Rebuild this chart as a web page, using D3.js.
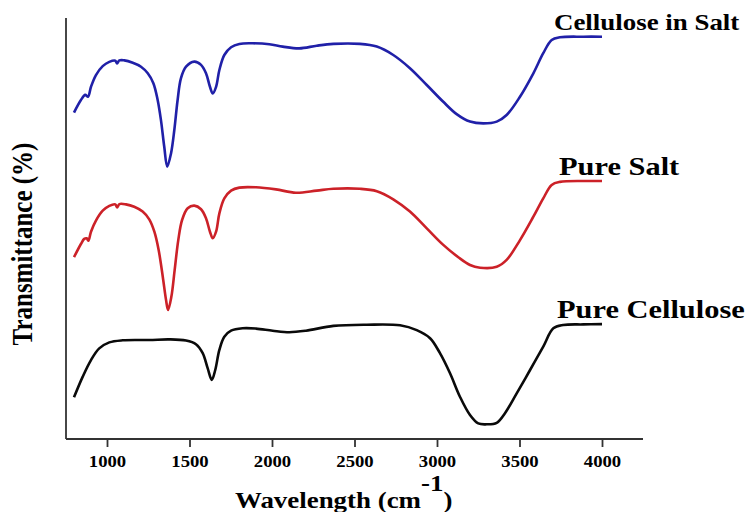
<!DOCTYPE html>
<html lang="en">
<head>
<meta charset="utf-8">
<title>FTIR spectra</title>
<script src="https://cdn.jsdelivr.net/npm/d3@7"></script>
<style>
    body { margin: 0; background: #fff; }
    svg text {
        font-family: "Liberation Serif", "Times New Roman", serif;
        font-weight: bold;
        fill: #000;
    }
    .axis path, .axis line {
        stroke: #333;
        stroke-width: 1.8;
    }
</style>
</head>
<body>
<svg id="chart" width="748" height="512"></svg>
<script>
// x ticks (wavenumber, cm-1)
var xTicks = [1000, 1500, 2000, 2500, 3000, 3500, 4000];
var seriesNames = ["Cellulose in Salt", "Pure Salt", "Pure Cellulose"];

// Cellulose in Salt (blue)
var wnBlue = [800, 842, 868, 885, 903, 933, 974, 1014, 1050, 1061, 1075, 1105, 1156, 1206, 1247, 1281, 1307, 1327, 1347, 1365,
    1388, 1408, 1428, 1448, 1479, 1529, 1570, 1600, 1624, 1641, 1661, 1681, 1711, 1752, 1802, 1883, 1984, 2065, 2165, 2271,
    2372, 2533, 2635, 2735, 2836, 2938, 3038, 3119, 3200, 3281, 3362, 3422, 3503, 3584, 3644, 3695, 3745, 3887, 4000];
var tBlue = [108.8, 113.0, 114.7, 114.1, 117.4, 121.3, 124.3, 125.7, 126.1, 125.2, 126.2, 126.2, 125.4, 124.1, 121.9, 118.6, 113.0, 106.3, 97.4, 90.8,
    95.2, 103.0, 113.0, 120.2, 124.1, 125.8, 124.7, 121.9, 117.4, 115.2, 117.4, 123.0, 128.0, 130.6, 131.7, 131.9, 131.6, 130.8, 130.2, 131.1,
    131.7, 131.7, 130.8, 128.0, 123.6, 118.0, 112.4, 108.3, 105.8, 105.2, 105.8, 108.0, 114.1, 121.9, 128.6, 133.0, 133.9, 134.1, 134.1];

// Pure Salt (red)
var wnRed = [800, 842, 862, 877, 887, 903, 933, 974, 1014, 1050, 1061, 1075, 1115, 1165, 1216, 1256, 1287, 1313, 1338, 1358,
    1370, 1390, 1410, 1432, 1455, 1489, 1529, 1570, 1600, 1624, 1641, 1661, 1681, 1711, 1752, 1802, 1903, 2024, 2145, 2271,
    2372, 2533, 2635, 2735, 2836, 2938, 3038, 3129, 3200, 3261, 3362, 3422, 3503, 3584, 3644, 3695, 3745, 3887, 4000];
var tRed = [60.6, 65.0, 66.7, 66.9, 66.1, 69.1, 72.8, 76.1, 77.7, 78.2, 77.2, 78.3, 78.2, 77.4, 75.8, 73.2, 69.1, 63.0, 54.1, 46.3,
    43.0, 47.4, 56.3, 66.3, 73.0, 76.9, 77.8, 76.6, 73.6, 69.1, 66.9, 69.1, 75.2, 80.2, 82.8, 83.8, 83.9, 83.2, 82.1, 82.8,
    83.4, 83.4, 82.6, 79.9, 75.8, 70.2, 64.7, 60.6, 58.0, 57.1, 57.4, 59.7, 66.3, 74.1, 80.2, 84.7, 85.7, 86.0, 86.0];

// Pure Cellulose (black)
var wnBlack = [800, 853, 903, 953, 1014, 1095, 1256, 1378, 1479, 1539, 1580, 1610, 1635, 1656, 1681, 1711, 1752, 1822, 1903, 2004,
    2105, 2206, 2372, 2574, 2776, 2877, 2958, 3018, 3079, 3139, 3200, 3250, 3301, 3362, 3412, 3483, 3564, 3644, 3705, 3765, 3887, 4000];
var tBlack = [13.9, 20.8, 26.3, 30.2, 32.2, 32.9, 33.0, 33.2, 32.8, 31.6, 28.6, 23.6, 19.7, 23.0, 29.7, 34.1, 36.1, 36.9, 36.8, 36.1,
    35.6, 36.1, 37.7, 38.1, 37.9, 36.3, 33.6, 28.6, 21.9, 14.1, 8.0, 5.2, 4.9, 5.4, 8.6, 15.2, 23.0, 30.8, 36.9, 38.0, 38.2, 38.3];

var svg = d3.select("#chart");
var plotLeft = 66, plotBottom = 439, plotTop = 19, plotRight = 643;

var x = d3.scaleLinear().domain([800, 4000]).range([74, 602]);
var y = d3.scaleLinear().domain([0, 140]).range([plotBottom, plotTop]);
var stretch = 1.17;

// axes
svg.append("line")
    .attr("x1", plotLeft).attr("x2", plotLeft).attr("y1", 18).attr("y2", plotBottom)
    .attr("stroke", "#333").attr("stroke-width", 1.8);
svg.append("line")
    .attr("x1", plotLeft).attr("x2", plotRight).attr("y1", plotBottom).attr("y2", plotBottom)
    .attr("stroke", "#333").attr("stroke-width", 1.8);

var xAxis = svg.append("g").attr("class", "axis")
    .attr("transform", "translate(0," + plotBottom + ")")
    .call(d3.axisBottom(x).tickValues(xTicks).tickSize(8).tickSizeOuter(0).tickPadding(6).tickFormat(d3.format("d")));
xAxis.select(".domain").remove();
xAxis.selectAll("text")
    .attr("y", 28).attr("dy", null)
    .attr("font-size", 17)
    .attr("transform", "scale(1.1,1)");

// curves
var line = d3.line()
    .x(function(d) { return x(d[0]); })
    .y(function(d) { return y(d[1]); })
    .curve(d3.curveCatmullRom.alpha(0.5));

var series = [
    { wn: wnBlue, t: tBlue, color: "#2020a8" },
    { wn: wnRed, t: tRed, color: "#cc2128" },
    { wn: wnBlack, t: tBlack, color: "#0a0a0a" }
];
series.forEach(function(s) {
    svg.append("path")
        .datum(d3.zip(s.wn, s.t))
        .attr("fill", "none")
        .attr("stroke", s.color)
        .attr("stroke-width", 2.6)
        .attr("stroke-linejoin", "round")
        .attr("d", line);
});

// series labels
function label(txt, px, py, size) {
    svg.append("text")
        .attr("transform", "translate(" + px + "," + py + ") scale(" + stretch + ",1)")
        .attr("font-size", size)
        .text(txt);
}
label(seriesNames[0], 554, 30, 23);
label(seriesNames[1], 559, 175, 26);
label(seriesNames[2], 557, 318, 26);

// axis titles
var xt = svg.append("text")
    .attr("transform", "translate(235,508) scale(" + stretch + ",1)")
    .attr("font-size", 23);
xt.append("tspan").text("Wavelength (cm");
xt.append("tspan").attr("dy", -17).text("-1");
xt.append("tspan").attr("dy", 17).text(")");

svg.append("text")
    .attr("transform", "translate(32,244) rotate(-90) scale(1," + stretch + ")")
    .attr("text-anchor", "middle")
    .attr("font-size", 25)
    .text("Transmittance (%)");
</script>
</body>
</html>
